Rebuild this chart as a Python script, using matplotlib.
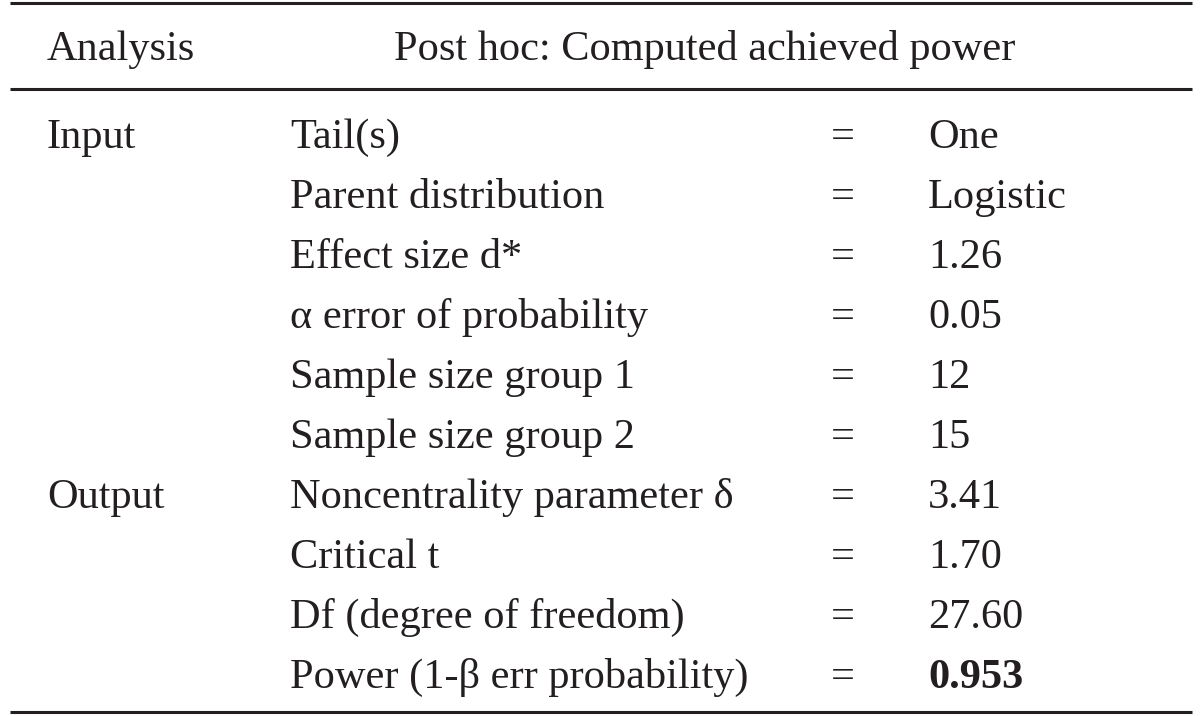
import matplotlib.pyplot as plt

plt.rcParams['font.family'] = ['Liberation Serif', 'DejaVu Serif']

header = ["Analysis", "Post hoc: Computed achieved power"]
groups = ["Input", "", "", "", "", "", "Output", "", "", ""]
params = ["Tail(s)", "Parent distribution", "Effect size d*",
          "\u03b1 error of probability", "Sample size group 1",
          "Sample size group 2", "Noncentrality parameter \u03b4",
          "Critical t", "Df (degree of freedom)",
          "Power (1-\u03b2 err probability)"]
values = ["One", "Logistic", "1.26", "0.05", "12", "15",
          "3.41", "1.70", "27.60", "0.953"]
bold_rows = [9]

ink = "#231f20"
fs = 30.5

fig = plt.figure(figsize=(12, 7.16), dpi=100)
ax = fig.add_axes([0, 0, 1, 1])
ax.set_xlim(0, 1200)
ax.set_ylim(716, 0)
ax.axis("off")

# rules
for y in [3, 89, 712]:
    ax.plot([10, 1192], [y, y], color=ink, lw=2.2, solid_capstyle="butt")

ax.text(47, 45, header[0], fontsize=fs, color=ink, va="center_baseline")
ax.text(705, 45, header[1], fontsize=fs, color=ink, va="center_baseline", ha="center")

y0 = 133
dy = 60
for i in range(len(params)):
    y = y0 + i*dy
    if groups[i]:
        ax.text(47, y, groups[i], fontsize=fs, color=ink, va="center_baseline")
    ax.text(290, y, params[i], fontsize=fs, color=ink, va="center_baseline")
    ax.text(843, y, "=", fontsize=fs, color=ink, va="center_baseline", ha="center")
    w = "bold" if i in bold_rows else "normal"
    ax.text(928, y, values[i], fontsize=fs, color=ink, va="center_baseline", fontweight=w)

fig.savefig("out.png", dpi=100)
